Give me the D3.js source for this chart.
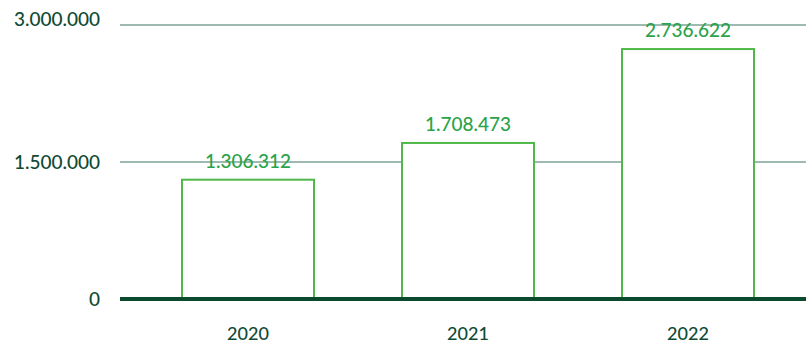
<!DOCTYPE html>
<html>
<head>
<meta charset="utf-8">
<script src="https://cdn.jsdelivr.net/npm/d3@7"></script>
<style>
  html, body { margin: 0; padding: 0; background: #fff; }
  svg { display: block; font-family: Lato, "Open Sans", sans-serif; }
</style>
</head>
<body>
<svg id="chart" width="806" height="349"></svg>
<script>
// Yearly totals
const years = ["2020", "2021", "2022"];
const totals = [1306312, 1708473, 2736622];
const yTicks = [0, 1500000, 3000000];

const width = 806, height = 349;
const svg = d3.select("#chart");

const fmt = v => d3.format(",")(v).replace(/,/g, ".");

const x = d3.scaleBand()
  .domain(years)
  .range([138, 798])
  .paddingInner(0.4)
  .paddingOuter(0.2);

const y = d3.scaleLinear()
  .domain([0, 3000000])
  .range([299, 25]);

// Horizontal gridlines
svg.append("g")
  .selectAll("line")
  .data(yTicks.filter(d => d > 0))
  .join("line")
  .attr("x1", 120).attr("x2", width)
  .attr("y1", d => y(d)).attr("y2", d => y(d))
  .attr("stroke", "#3f7560")
  .attr("stroke-width", 1);

// Y tick labels
svg.append("g")
  .selectAll("text")
  .data(yTicks)
  .join("text")
  .attr("x", 100)
  .attr("y", d => y(d) + (d === 3000000 ? -6 : 0))
  .attr("dy", "0.35em")
  .attr("text-anchor", "end")
  .attr("font-size", 19)
  .attr("font-weight", 500)
  .attr("fill", "#0e4a34")
  .text(d => fmt(d));

const data = years.map((yr, i) => ({ year: yr, value: totals[i] }));

// Outlined bars
svg.append("g")
  .selectAll("rect")
  .data(data)
  .join("rect")
  .attr("x", d => x(d.year))
  .attr("width", x.bandwidth())
  .attr("y", d => y(d.value))
  .attr("height", d => y(0) - y(d.value))
  .attr("fill", "#fff")
  .attr("stroke", "#4fb848")
  .attr("stroke-width", 2);

// Value labels
svg.append("g")
  .selectAll("text")
  .data(data)
  .join("text")
  .attr("x", d => x(d.year) + x.bandwidth() / 2)
  .attr("y", d => y(d.value) - 12)
  .attr("text-anchor", "middle")
  .attr("font-size", 19)
  .attr("font-weight", 500)
  .attr("fill", "#2aa34a")
  .text(d => fmt(d.value));

// Baseline
svg.append("line")
  .attr("x1", 120).attr("x2", width)
  .attr("y1", y(0)).attr("y2", y(0))
  .attr("stroke", "#0b4a2c")
  .attr("stroke-width", 4);

// Category labels
svg.append("g")
  .selectAll("text")
  .data(years)
  .join("text")
  .attr("x", d => x(d) + x.bandwidth() / 2)
  .attr("y", 334)
  .attr("dy", "0.35em")
  .attr("text-anchor", "middle")
  .attr("font-size", 18)
  .attr("font-weight", 500)
  .attr("fill", "#0e4a34")
  .text(d => d);
</script>
</body>
</html>
